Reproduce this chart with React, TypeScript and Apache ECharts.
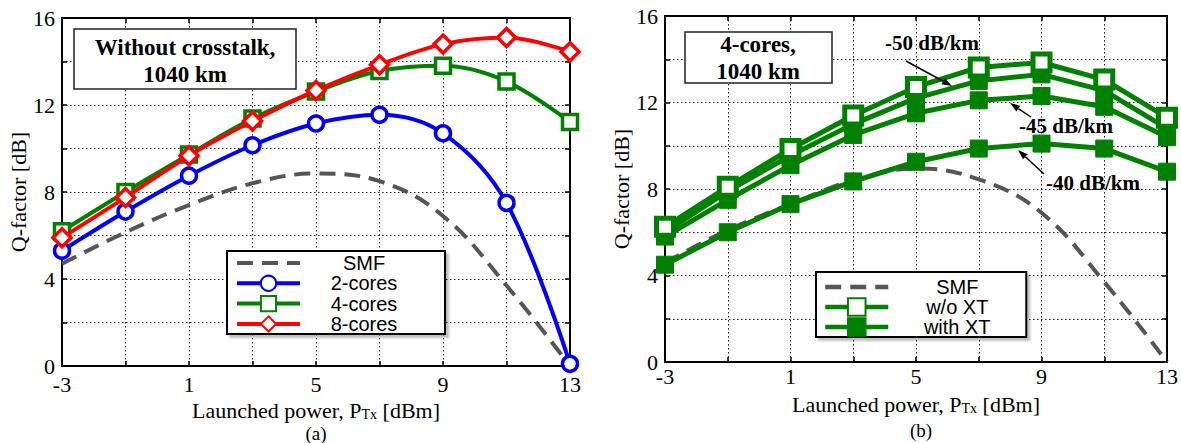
import React, { useEffect, useRef } from "react";
import * as echarts from "echarts";

// ---------- data ----------
const xValues = ["-3", "-1", "1", "3", "5", "7", "9", "11", "13"];

// (a) without crosstalk, 1040 km
const smfA = [4.7, 6.15, 7.4, 8.4, 8.85, 8.5, 6.9, 3.7, 0];
const twoCores = [5.3, 7.1, 8.75, 10.15, 11.15, 11.55, 10.7, 7.5, 0.1];
const fourCores = [6.2, 8.0, 9.72, 11.38, 12.62, 13.56, 13.8, 13.08, 11.22];
const eightCores = [5.9, 7.75, 9.67, 11.26, 12.67, 13.85, 14.8, 15.1, 14.45];

// (b) 4-cores, 1040 km
const smfB = [4.6, 6.1, 7.3, 8.4, 8.95, 8.45, 6.9, 3.7, 0];
const woXT = [6.25, 8.1, 9.85, 11.4, 12.72, 13.62, 13.85, 13.06, 11.3];
const xt50 = [6.0, 7.9, 9.55, 11.0, 12.2, 13.0, 13.3, 12.55, 10.8];
const xt45 = [5.8, 7.5, 9.1, 10.5, 11.5, 12.1, 12.3, 11.8, 10.4];
const xt40 = [4.5, 6.0, 7.3, 8.35, 9.26, 9.87, 10.1, 9.87, 8.8];

const legendA = ["SMF", "2-cores", "4-cores", "8-cores"];
const legendB = ["SMF", "w/o XT", "with XT"];

// ---------- styles ----------
const serif = "'Liberation Serif', 'Times New Roman', serif";
const sans = "'Liberation Sans', Arial, sans-serif";
const GREEN = "#008000";
const GREY = "#555555";

function bottomX(gridIndex: number, margin: number, nameGap: number) {
  return {
    type: "category",
    gridIndex,
    data: xValues,
    boundaryGap: false,
    position: "bottom",
    axisLine: { show: true, onZero: false, lineStyle: { color: "#000", width: 2 } },
    axisTick: { show: true, inside: true, interval: 0, length: 5, lineStyle: { color: "#000", width: 1.5 } },
    axisLabel: { interval: 1, margin, fontFamily: serif, fontSize: 22, color: "#000" },
    splitLine: { show: true, interval: 0, lineStyle: { color: "#222", width: 1, type: [1.5, 2.5] } },
    name: "Launched power, P{sub|Tx} [dBm]",
    nameLocation: "middle",
    nameGap,
    nameTextStyle: {
      fontFamily: serif,
      fontSize: 22,
      color: "#000",
      lineHeight: 22,
      rich: { sub: { fontFamily: serif, fontSize: 14, color: "#000", verticalAlign: "bottom", lineHeight: 14 } },
    },
  };
}

function topX(gridIndex: number) {
  return {
    type: "category",
    gridIndex,
    data: xValues,
    boundaryGap: false,
    position: "top",
    axisLine: { show: true, onZero: false, lineStyle: { color: "#000", width: 2 } },
    axisTick: { show: true, inside: true, interval: 0, length: 5, lineStyle: { color: "#000", width: 1.5 } },
    axisLabel: { show: false },
    splitLine: { show: false },
  };
}

function leftY(gridIndex: number, nameGap: number) {
  return {
    type: "value",
    gridIndex,
    min: 0,
    max: 16,
    interval: 2,
    position: "left",
    axisLine: { show: true, onZero: false, lineStyle: { color: "#000", width: 2 } },
    axisTick: { show: true, inside: true, length: 5, lineStyle: { color: "#000", width: 1.5 } },
    axisLabel: {
      margin: 7,
      fontFamily: serif,
      fontSize: 22,
      color: "#000",
      formatter: (v: number) => (v % 4 === 0 ? String(v) : ""),
    },
    splitLine: { show: true, lineStyle: { color: "#222", width: 1, type: [1.5, 2.5] } },
    name: "Q-factor [dB]",
    nameLocation: "middle",
    nameGap,
    nameTextStyle: { fontFamily: serif, fontSize: 22, color: "#000" },
  };
}

function rightY(gridIndex: number) {
  return {
    type: "value",
    gridIndex,
    min: 0,
    max: 16,
    interval: 2,
    position: "right",
    axisLine: { show: true, onZero: false, lineStyle: { color: "#000", width: 2 } },
    axisTick: { show: true, inside: true, length: 5, lineStyle: { color: "#000", width: 1.5 } },
    axisLabel: { show: false },
    splitLine: { show: false },
  };
}

function legendText(width: number, lineHeight: number) {
  return {
    rich: { t: { width, align: "center", fontFamily: sans, fontSize: 20, color: "#000", lineHeight } },
  };
}

function arrow(x1: number, y1: number, x2: number, y2: number) {
  const dx = x2 - x1;
  const dy = y2 - y1;
  const len = Math.sqrt(dx * dx + dy * dy);
  const ux = dx / len;
  const uy = dy / len;
  const bx = x2 - ux * 10;
  const by = y2 - uy * 10;
  const px = -uy * 3.5;
  const py = ux * 3.5;
  return [
    { type: "line", z: 100, shape: { x1, y1, x2: bx, y2: by }, style: { stroke: "#000", lineWidth: 1.5 } },
    {
      type: "polygon",
      z: 100,
      shape: { points: [[x2, y2], [bx + px, by + py], [bx - px, by - py]] },
      style: { fill: "#000" },
    },
  ];
}

export default function App() {
  const ref = useRef<HTMLDivElement>(null);

  useEffect(() => {
    if (!ref.current) return;
    const chart = echarts.init(ref.current, undefined, { renderer: "svg" });

    const legendBox = {
      orient: "vertical",
      selectedMode: false,
      backgroundColor: "#fff",
      borderColor: "#000",
      borderWidth: 2,
      shadowColor: "rgba(0,0,0,0.25)",
      shadowBlur: 2,
      shadowOffsetX: 3,
      shadowOffsetY: 3,
      formatter: (n: string) => `{t|${n}}`,
    };

    const option: any = {
      animation: false,
      backgroundColor: "#fff",
      grid: [
        { left: 62, top: 18, width: 508, height: 348, containLabel: false },
        { left: 665, top: 16, width: 508, height: 346, containLabel: false },
      ],
      xAxis: [bottomX(0, 7, 27), topX(0), bottomX(1, 3, 31), topX(1)],
      yAxis: [leftY(0, 31), rightY(0), leftY(1, 30), rightY(1)],
      legend: [
        {
          ...legendBox,
          data: legendA.map((n) => (n === "SMF" ? { name: n, itemStyle: { opacity: 0 } } : n)),
          left: 227,
          top: 251,
          itemWidth: 63,
          itemHeight: 19,
          itemGap: 0.3,
          padding: [2, 22, 0, 8],
          lineStyle: { width: 4 },
          textStyle: legendText(118, 20),
        },
        {
          ...legendBox,
          data: legendB.map((n) => (n === "SMF" ? { name: n, itemStyle: { opacity: 0 } } : n)),
          left: 816,
          top: 272,
          itemWidth: 63,
          itemHeight: 22,
          itemGap: 0,
          padding: [5, 5, 0, 7],
          lineStyle: { width: 4.5 },
          textStyle: legendText(128, 22),
        },
      ],
      series: [
        // ---- (a)
        {
          name: "SMF",
          type: "line",
          xAxisIndex: 0,
          yAxisIndex: 0,
          data: smfA,
          smooth: 0.4,
          symbol: "none",
          lineStyle: { color: GREY, width: 4, type: [16, 9] },
          itemStyle: { color: GREY },
          z: 2,
        },
        {
          name: "2-cores",
          type: "line",
          xAxisIndex: 0,
          yAxisIndex: 0,
          data: twoCores,
          smooth: 0.35,
          symbol: "circle",
          symbolSize: 15,
          lineStyle: { color: "#0000ff", width: 4 },
          itemStyle: { color: "#fff", borderColor: "#0000ff", borderWidth: 3.5 },
          z: 3,
        },
        {
          name: "4-cores",
          type: "line",
          xAxisIndex: 0,
          yAxisIndex: 0,
          data: fourCores,
          smooth: 0.35,
          symbol: "rect",
          symbolSize: 15,
          lineStyle: { color: GREEN, width: 4 },
          itemStyle: { color: "#fff", borderColor: GREEN, borderWidth: 3.5 },
          z: 3,
        },
        {
          name: "8-cores",
          type: "line",
          xAxisIndex: 0,
          yAxisIndex: 0,
          data: eightCores,
          smooth: 0.35,
          symbol: "diamond",
          symbolSize: 18,
          lineStyle: { color: "#ff0000", width: 4 },
          itemStyle: { color: "#fff", borderColor: "#ff0000", borderWidth: 3.5 },
          z: 4,
        },
        // ---- (b)
        {
          name: "SMF",
          type: "line",
          xAxisIndex: 2,
          yAxisIndex: 2,
          data: smfB,
          smooth: 0.4,
          symbol: "none",
          lineStyle: { color: GREY, width: 4, type: [16, 9] },
          itemStyle: { color: GREY },
          z: 2,
        },
        ...[xt40, xt45, xt50].map((d) => ({
          name: "with XT",
          type: "line",
          xAxisIndex: 2,
          yAxisIndex: 2,
          data: d,
          symbol: "rect",
          symbolSize: 17,
          lineStyle: { color: GREEN, width: 5 },
          itemStyle: { color: GREEN, borderColor: GREEN, borderWidth: 1 },
          z: 3,
        })),
        {
          name: "w/o XT",
          type: "line",
          xAxisIndex: 2,
          yAxisIndex: 2,
          data: woXT,
          symbol: "rect",
          symbolSize: 17,
          lineStyle: { color: GREEN, width: 5 },
          itemStyle: { color: "#fff", borderColor: GREEN, borderWidth: 5 },
          z: 4,
        },
      ],
      graphic: [
        // title boxes
        {
          type: "rect",
          z: 100,
          shape: { x: 74, y: 29, width: 222, height: 60 },
          style: { fill: "#fff", stroke: "#222", lineWidth: 1.5 },
        },
        {
          type: "text",
          z: 101,
          x: 185,
          y: 60.5,
          style: {
            text: "Without crosstalk,\n1040 km",
            font: `bold 23px ${serif}`,
            lineHeight: 27,
            fill: "#000",
            align: "center",
            verticalAlign: "middle",
          },
        },
        {
          type: "rect",
          z: 100,
          shape: { x: 685, y: 32, width: 147, height: 51 },
          style: { fill: "#fff", stroke: "#222", lineWidth: 1.5 },
        },
        {
          type: "text",
          z: 101,
          x: 758,
          y: 58,
          style: {
            text: "4-cores,\n1040 km",
            font: `bold 23px ${serif}`,
            lineHeight: 27,
            fill: "#000",
            align: "center",
            verticalAlign: "middle",
          },
        },
        // annotations
        {
          type: "text",
          z: 101,
          x: 932,
          y: 43,
          style: { text: "-50 dB/km", font: `bold 21px ${serif}`, fill: "#000", align: "center", verticalAlign: "middle" },
        },
        {
          type: "text",
          z: 101,
          x: 1066,
          y: 126,
          style: { text: "-45 dB/km", font: `bold 21px ${serif}`, fill: "#000", align: "center", verticalAlign: "middle" },
        },
        {
          type: "text",
          z: 101,
          x: 1093,
          y: 183,
          style: { text: "-40 dB/km", font: `bold 21px ${serif}`, fill: "#000", align: "center", verticalAlign: "middle" },
        },
        ...arrow(906, 61, 952, 86),
        ...arrow(1031, 117, 1010, 103),
        ...arrow(1044, 174, 1018, 150),
        // panel labels
        {
          type: "text",
          z: 101,
          x: 316,
          y: 433,
          style: { text: "(a)", font: `19px ${serif}`, fill: "#000", align: "center", verticalAlign: "middle" },
        },
        {
          type: "text",
          z: 101,
          x: 921,
          y: 430,
          style: { text: "(b)", font: `19px ${serif}`, fill: "#000", align: "center", verticalAlign: "middle" },
        },
      ],
    };

    chart.setOption(option);
    return () => chart.dispose();
  }, []);

  return (
    <div
      ref={ref}
      style={{ position: "fixed", left: 0, top: 0, width: 1181, height: 443, background: "#fff" }}
    />
  );
}
